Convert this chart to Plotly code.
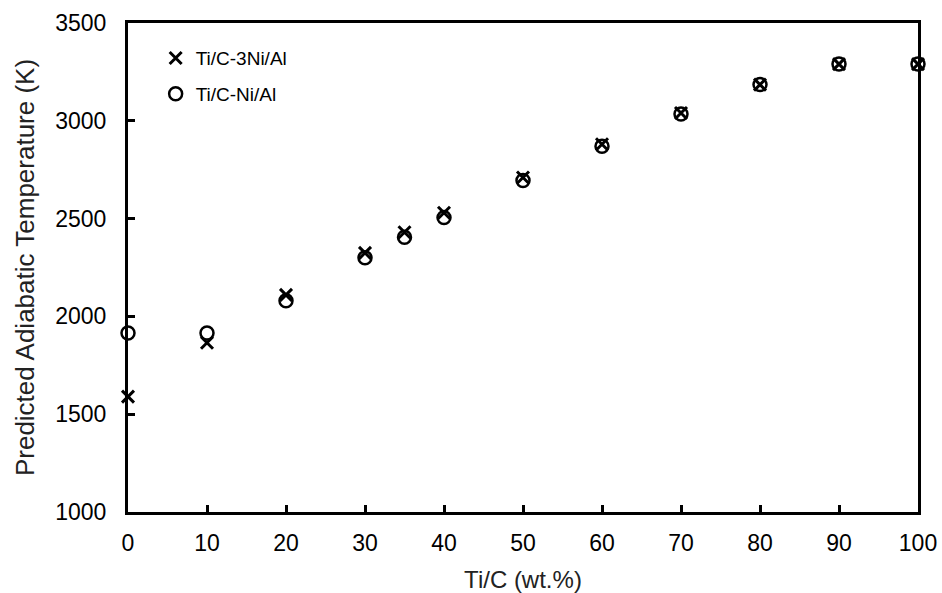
import plotly.graph_objects as go

ti_c = [0, 10, 20, 30, 35, 40, 50, 60, 70, 80, 90, 100]
temp_3ni = [1590, 1865, 2110, 2325, 2430, 2530, 2710, 2880, 3040, 3185, 3290, 3290]
temp_ni = [1915, 1915, 2080, 2300, 2405, 2505, 2695, 2870, 3035, 3185, 3290, 3290]

FONT = "Liberation Sans, Arial, sans-serif"

fig = go.Figure()
fig.add_trace(go.Scatter(
    x=ti_c, y=temp_3ni, mode="markers", name="Ti/C-3Ni/Al",
    legendgroup="a", cliponaxis=False,
    marker=dict(symbol="x-thin-open", size=12, color="black",
                line=dict(width=3, color="black")),
))
fig.add_trace(go.Scatter(
    x=ti_c, y=temp_ni, mode="markers", name="Ti/C-Ni/Al",
    legendgroup="b", cliponaxis=False,
    marker=dict(symbol="circle-open", size=13, color="black",
                line=dict(width=2.5, color="black")),
))

axis_common = dict(
    showline=True, linecolor="black", linewidth=3, mirror=True,
    ticks="inside", ticklen=7, tickwidth=2.5, tickcolor="black",
    showgrid=False, zeroline=False, automargin=False,
    tickfont=dict(family=FONT, size=23, color="black"),
)

fig.update_layout(
    width=942, height=593,
    margin=dict(l=128, r=24, t=23, b=81),
    paper_bgcolor="white", plot_bgcolor="white",
    font=dict(family=FONT, color="black"),
    xaxis=dict(range=[0, 100], dtick=10, tick0=0, ticklabelstandoff=8,
               title=dict(text="Ti/C (wt.%)", font=dict(family=FONT, size=24, color="#222"), standoff=20),
               **axis_common),
    yaxis=dict(range=[1000, 3500], dtick=500, tick0=1000, ticklabelstandoff=14,
               title=dict(text="Predicted Adiabatic Temperature (K)", font=dict(family=FONT, size=26, color="#222"), standoff=14),
               **axis_common),
    legend=dict(x=0.035, y=0.967, xanchor="left", yanchor="top",
                bgcolor="rgba(0,0,0,0)", borderwidth=0,
                font=dict(family=FONT, size=19, color="black"),
                tracegroupgap=8, itemwidth=30),
    showlegend=True,
)

fig.write_html("out.html")
